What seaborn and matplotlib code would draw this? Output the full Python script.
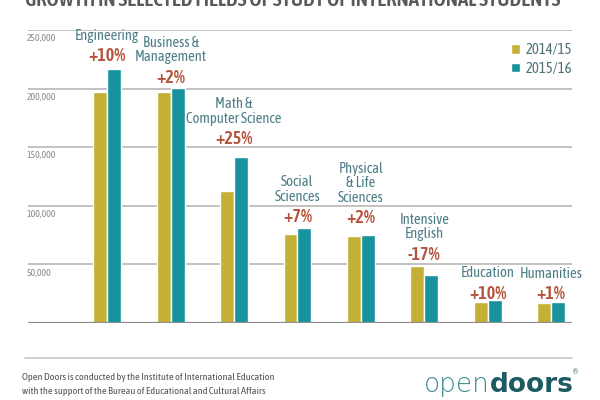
import pandas as pd
import matplotlib.pyplot as plt
import seaborn as sns
from matplotlib.lines import Line2D

fields = ["Engineering", "Business &\nManagement", "Math &\nComputer Science",
          "Social\nSciences", "Physical\n& Life\nSciences", "Intensive\nEnglish",
          "Education", "Humanities"]
changes = ["+10%", "+2%", "+25%", "+7%", "+2%", "-17%", "+10%", "+1%"]
years = ["2014/15", "2015/16"]
students_1415 = [196750, 197258, 112950, 76000, 74000, 49000, 17500, 17300]
students_1516 = [216932, 200312, 141651, 81300, 75500, 41000, 19500, 17700]
yticks = [50000, 100000, 150000, 200000, 250000]

# extra lift (points) for a few hand-placed labels in the original
label_lift = [1.5, 0, 5, 0, 4, 0, -3, -2]

gold = "#c4b036"
teal = "#18939e"
label_col = "#4c7d86"
pct_col = "#b5533d"
grid_col = "#bdbdbd"

sns.set_style("white")
plt.rcParams['font.family'] = ['Asap Condensed', 'DejaVu Sans']

df = pd.DataFrame({
    "field": fields * 2,
    "year": [years[0]] * len(fields) + [years[1]] * len(fields),
    "students": students_1415 + students_1516,
})

fig = plt.figure(figsize=(6, 4), dpi=100)
ax = fig.add_axes([28 / 600, 77 / 400, 544 / 600, 293 / 400])

sns.barplot(data=df, x="field", y="students", hue="year", palette=[gold, teal],
            width=0.44, gap=0, saturation=1, ax=ax, errorbar=None, zorder=3)

ax.set_ylim(0, 250000)
ax.set_xlim(-1.25, 7.33)
for s in ax.spines.values():
    s.set_visible(False)
ax.set_xticks([])
ax.set_yticks([])
ax.set_xlabel("")
ax.set_ylabel("")

# gridlines, with the value written just under each line
for t in yticks:
    ax.axhline(t, color=grid_col, lw=1.3, zorder=1)
    ax.annotate(f"{t:,}", xy=(0, t), xycoords=("axes fraction", "data"),
                xytext=(-1, -3), textcoords="offset points", ha="left", va="top",
                fontsize=7, color="#8a8a8a")
ax.axhline(0, color="#8c8c8c", lw=1.6, zorder=4)

# field names + change over the bars
for i, (name, pct) in enumerate(zip(fields, changes)):
    top = max(students_1415[i], students_1516[i])
    lift = label_lift[i]
    ax.annotate(pct, xy=(i, top), xytext=(0, 4 + lift), textcoords="offset points",
                ha="center", va="baseline", fontsize=13, fontweight="semibold",
                color=pct_col)
    ax.annotate(name, xy=(i, top), xytext=(0, 19.5 + lift), textcoords="offset points",
                ha="center", va="baseline", fontsize=10.5, color=label_col,
                linespacing=1.05)

leg = ax.legend(loc="upper right", bbox_to_anchor=(1.0, 0.955), frameon=False,
                handlelength=0.6, handleheight=0.6, handletextpad=0.4,
                borderaxespad=0, borderpad=0, labelspacing=0.3, fontsize=10.5)
for txt in leg.get_texts():
    txt.set_color("#4f6f75")

# title, cut off by the top edge as in the original
fig.text(25 / 600, 1 - 6 / 400, "GROWTH IN SELECTED FIELDS OF STUDY OF INTERNATIONAL STUDENTS",
         ha="left", va="baseline", fontsize=15, fontweight="semibold", color="#5a5a5a")

# footer
fig.add_artist(Line2D([25 / 600, 572 / 600], [1 - 358 / 400] * 2, color="#c8c8c8", lw=1.2))
fig.text(22 / 600, 1 - 377 / 400,
         "Open Doors is conducted by the Institute of International Education",
         ha="left", va="center", fontsize=7.4, color="#555555")
fig.text(22 / 600, 1 - 392 / 400,
         "with the support of the Bureau of Educational and Cultural Affairs",
         ha="left", va="center", fontsize=7.4, color="#555555")
fig.text(490 / 600, 1 - 392 / 400, "open", ha="right", va="baseline",
         fontsize=19, color="#3b8a8e", family="DejaVu Sans", fontweight="light")
fig.text(490 / 600, 1 - 392 / 400, "doors", ha="left", va="baseline",
         fontsize=19, color="#1d5a62", family="DejaVu Sans", fontweight="bold")
fig.text(573 / 600, 1 - 372 / 400, "®", ha="left", va="center",
         fontsize=6, color="#1d5a62")

fig.savefig("out.png", dpi=100)
